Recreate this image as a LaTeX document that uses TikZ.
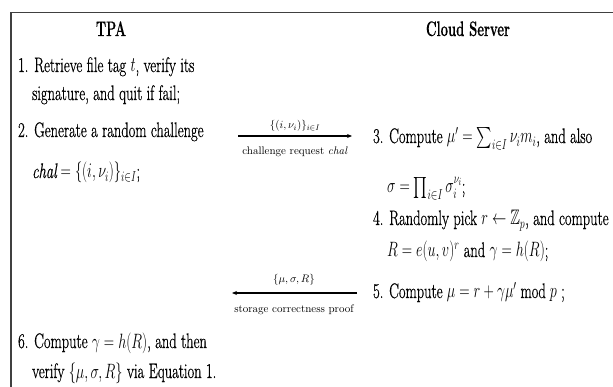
\documentclass[tikz,border=0pt]{standalone}
\usepackage{amsmath,amssymb}
\usepackage{fontspec}
\setmainfont{Latin Modern Roman}[UprightFeatures={FakeBold=0.8},ItalicFeatures={FakeBold=0.8},BoldFeatures={FakeBold=0.5}]
\newfontfamily\plainlm{Latin Modern Roman}
\usetikzlibrary{arrows.meta}
\begin{document}
\begin{tikzpicture}[x=1pt,y=-1pt,
  body/.style={anchor=base west,inner sep=0pt,xscale=0.69,font=\fontsize{21}{25}\selectfont},
  head/.style={anchor=base,inner sep=0pt,xscale=0.62,font=\fontsize{21}{25}\selectfont\bfseries},
  small/.style={inner sep=0pt,font=\fontsize{11}{13}\selectfont\plainlm},
  frame/.style={line width=1.8pt,draw=black!75},
  msg/.style={line width=1.4pt,-{Stealth[length=5pt,width=4pt]}}]
\useasboundingbox (0,0) rectangle (613,387);
\coordinate (fl) at (11,387);
\coordinate (ftl) at (11,12.5);
\coordinate (ftr) at (613,12.5);
\draw[frame] (fl) -- (ftl) -- (ftr);
% headings
\node[head] (tpa) at (111,36) {TPA};
\node[head] (cs) at (468,36) {Cloud Server};
% TPA side
\node[body] (t1) at (18,72) {1. Retrieve file tag $t$, verify its};
\node[body] (t1b) at (32,100) {signature, and quit if fail;};
\node[body] (t2) at (18,137) {2. Generate a random challenge};
\node[body] (t2b) at (32,178) {$\mathit{chal}=\{(i,\nu_i)\}_{i\in I}$;};
\node[body] (t6) at (18,348) {6. Compute $\gamma=h(R)$, and then};
\node[body] (t6b) at (32,378) {verify $\{\mu,\sigma,R\}$ via Equation 1.};
% server side
\node[body] (s3) at (373,143) {3. Compute $\mu'=\sum_{i\in I}\nu_i m_i$, and also};
\node[body] (s3b) at (387,193) {$\sigma=\prod_{i\in I}\sigma_i^{\nu_i}$;};
\node[body] (s4) at (373,225) {4. Randomly pick $r\leftarrow\mathbb{Z}_p$, and compute};
\node[body] (s4b) at (387,257) {$R=e(u,v)^r$ and $\gamma=h(R)$;};
\node[body] (s5) at (373,298) {5. Compute $\mu=r+\gamma\mu' \bmod p$ ;};
% messages
\coordinate (m1s) at (238,136);
\coordinate (m1e) at (352,136);
\draw[msg] (m1s) -- (m1e);
\node[small] (m1a) at (295,126) {$\{(i,\nu_i)\}_{i\in I}$};
\node[small] (m1b) at (295,152) {challenge request \textit{chal}};
\coordinate (m2s) at (357,293);
\coordinate (m2e) at (232,293);
\draw[msg] (m2s) -- (m2e);
\node[small] (m2a) at (294,280) {$\{\mu,\sigma,R\}$};
\node[small] (m2b) at (294,310) {storage correctness proof};
\end{tikzpicture}
\end{document}
